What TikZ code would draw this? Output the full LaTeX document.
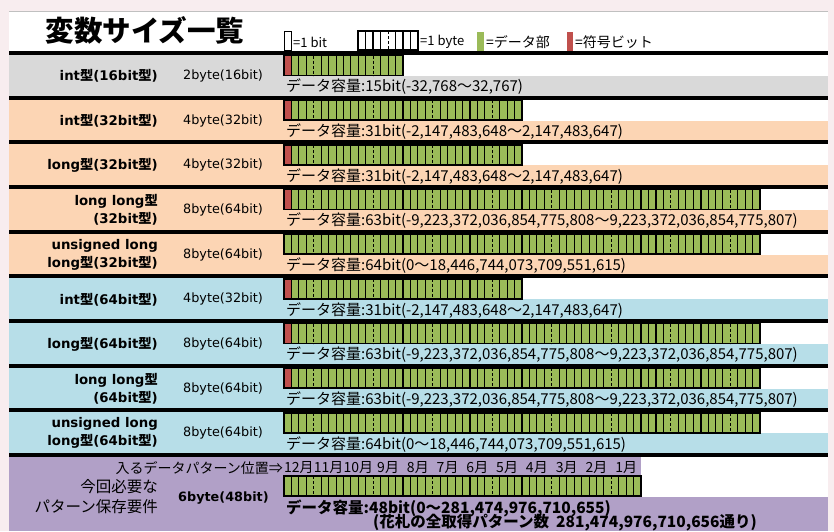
\documentclass[tikz,border=0pt]{standalone}
\usepackage{fontspec}
\setmainfont{Noto Sans CJK JP}
\newfontfamily\latf{DejaVu Sans}
\newcommand{\jt}[1]{{\rmfamily#1}}
\definecolor{bgpink}{HTML}{F8EDEF}
\definecolor{rowgray}{HTML}{D9D9D9}
\definecolor{peach}{HTML}{FCD5B4}
\definecolor{lblue}{HTML}{B7DEE8}
\definecolor{lpurple}{HTML}{B1A0C7}
\definecolor{bitgreen}{HTML}{9BBB59}
\definecolor{bitred}{HTML}{C0504D}
\definecolor{topgray}{HTML}{C0C0C0}
\tikzset{
  lbl/.style={anchor=east, inner sep=0pt, align=right, font=\latf\bfseries\fontsize{13.3}{18}\selectfont},
  sz/.style={anchor=west, inner sep=0pt, font=\latf\fontsize{12.8}{16}\selectfont},
  dat/.style={anchor=west, inner sep=0pt, font=\fontsize{15}{17}\selectfont},
  datb/.style={anchor=west, inner sep=0pt, font=\bfseries\fontsize{15.5}{17}\selectfont},
  leg/.style={anchor=west, inner sep=0pt, font=\fontsize{13}{16}\selectfont},
  legj/.style={anchor=west, inner sep=0pt, font=\fontsize{14}{16}\selectfont},
  mon/.style={inner sep=0pt, font=\fontsize{14}{16}\selectfont},
  need/.style={anchor=east, inner sep=0pt, font=\fontsize{15.5}{17}\selectfont},
  bitsep/.style={line width=1.05pt},
  bytesep/.style={line width=1.7pt},
  midsep/.style={line width=1pt, dash pattern=on 3pt off 2pt},
  baroutline/.style={line width=1.5pt},
}
\newcommand{\bitbar}[4]{%
  \fill[bitgreen] (#1,#2) rectangle ++(#3*7.44,20);
  \ifnum#4=1 \fill[bitred] (#1,#2) rectangle ++(7.44,20);\fi
  \pgfmathtruncatemacro\bbn{#3-1}%
  \foreach \k in {1,...,\bbn}{%
    \pgfmathtruncatemacro\bbr{mod(\k,8)}%
    \ifnum\bbr=4 \draw[midsep] (#1+\k*7.44,#2) -- ++(0,20);%
    \else\ifnum\bbr=0 \draw[bytesep] (#1+\k*7.44,#2) -- ++(0,20);%
    \else \draw[bitsep] (#1+\k*7.44,#2) -- ++(0,20);\fi\fi
  }%
  \draw[baroutline] (#1,#2) rectangle ++(#3*7.44,20);
}
\newcommand{\datarow}[7]{%
  \pgfmathsetmacro\rowline{51+44.67*(#1-1)}%
  \pgfmathsetmacro\rowtop{\rowline+4}%
  \fill[#2] (9,\rowtop) rectangle (828,\rowtop+40.67);
  \fill[white] (284,\rowtop) rectangle (828,\rowtop+21);
  \fill[black] (9,\rowline) rectangle (828,\rowline+4);
  \node[lbl] (lab#1) at (158,\rowtop+21) {#3};
  \node[sz] (sz#1) at (183,\rowtop+21) {#4};
  \bitbar{284}{\rowtop+0.5}{#5}{#6}
  \node[dat] (dat#1) at (286,\rowtop+32) {#7};
}
\begin{document}
\begin{tikzpicture}[x=1pt,y=-1pt]
\useasboundingbox (0,0) rectangle (834,531);
\clip (0,0) rectangle (834,531);
\fill[bgpink] (0,0) rectangle (834,531);
\fill[white] (9,11) rectangle (828,531);
\draw[topgray, line width=0.8pt] (9,11) -- (828,11);
% title
\node[inner sep=0pt, font=\bfseries\fontsize{28.5}{30}\selectfont] (title) at (145,30) {変数サイズ一覧};
% legend
\draw[fill=white, line width=0.9pt] (284,31) rectangle (291,50);
\node[leg] (l1) at (293,42) {=1 bit};
\fill[white] (358,31) rectangle (418,50);
\foreach \k in {1,...,7}{%
  \ifnum\k=4 \draw[midsep] (358+\k*7.5,31) -- (358+\k*7.5,50);%
  \else \draw[bitsep] (358+\k*7.5,31) -- (358+\k*7.5,50);\fi
}
\draw[baroutline] (358,31) rectangle (418,50);
\node[leg] (l2) at (420,42) {=1 byte};
\fill[bitgreen] (477,32) rectangle (484,51);
\node[legj] (l3) at (486,42) {=データ部};
\fill[bitred] (567,32) rectangle (573,51);
\node[legj] (l4) at (575,42) {=符号ビット};
% rows
\datarow{1}{rowgray}{int\jt{型}(16bit\jt{型})}{2byte(16bit)}{16}{1}{データ容量:15bit(-32,768〜32,767)}
\datarow{2}{peach}{int\jt{型}(32bit\jt{型})}{4byte(32bit)}{32}{1}{データ容量:31bit(-2,147,483,648〜2,147,483,647)}
\datarow{3}{peach}{long\jt{型}(32bit\jt{型})}{4byte(32bit)}{32}{1}{データ容量:31bit(-2,147,483,648〜2,147,483,647)}
\datarow{4}{peach}{long long\jt{型}\\(32bit\jt{型})}{8byte(64bit)}{64}{1}{データ容量:63bit(-9,223,372,036,854,775,808〜9,223,372,036,854,775,807)}
\datarow{5}{peach}{unsigned long\\long\jt{型}(32bit\jt{型})}{8byte(64bit)}{64}{0}{データ容量:64bit(0〜18,446,744,073,709,551,615)}
\datarow{6}{lblue}{int\jt{型}(64bit\jt{型})}{4byte(32bit)}{32}{1}{データ容量:31bit(-2,147,483,648〜2,147,483,647)}
\datarow{7}{lblue}{long\jt{型}(64bit\jt{型})}{8byte(64bit)}{64}{1}{データ容量:63bit(-9,223,372,036,854,775,808〜9,223,372,036,854,775,807)}
\datarow{8}{lblue}{long long\jt{型}\\(64bit\jt{型})}{8byte(64bit)}{64}{1}{データ容量:63bit(-9,223,372,036,854,775,808〜9,223,372,036,854,775,807)}
\datarow{9}{lblue}{unsigned long\\long\jt{型}(64bit\jt{型})}{8byte(64bit)}{64}{0}{データ容量:64bit(0〜18,446,744,073,709,551,615)}
% last row
\fill[lpurple] (9,457) rectangle (828,531);
\fill[white] (641,457) rectangle (828,497);
\fill[black] (9,453) rectangle (828,457);
\node[mon, anchor=east] (pos) at (283,468) {入るデータパターン位置⇒};
\foreach \m [count=\i] in {12,11,10,9,8,7,6,5,4,3,2,1}{%
  \node[mon] (m\i) at (284+29.75*\i-14.875,468) {\m 月};
}
\bitbar{284}{476}{48}{0}
\node[need] (need1) at (158,487) {今回必要な};
\node[need] (need2) at (158,507) {パターン保存要件};
\node[sz, font=\latf\bfseries\fontsize{12.8}{16}\selectfont] (sz10) at (178,498) {6byte(48bit)};
\node[datb] (dat10) at (286,508) {データ容量:48bit(0〜281,474,976,710,655)};
\node[datb] (dat11) at (373,523) {(花札の全取得パターン数\ \ 281,474,976,710,656通り)};
\end{tikzpicture}
\end{document}
